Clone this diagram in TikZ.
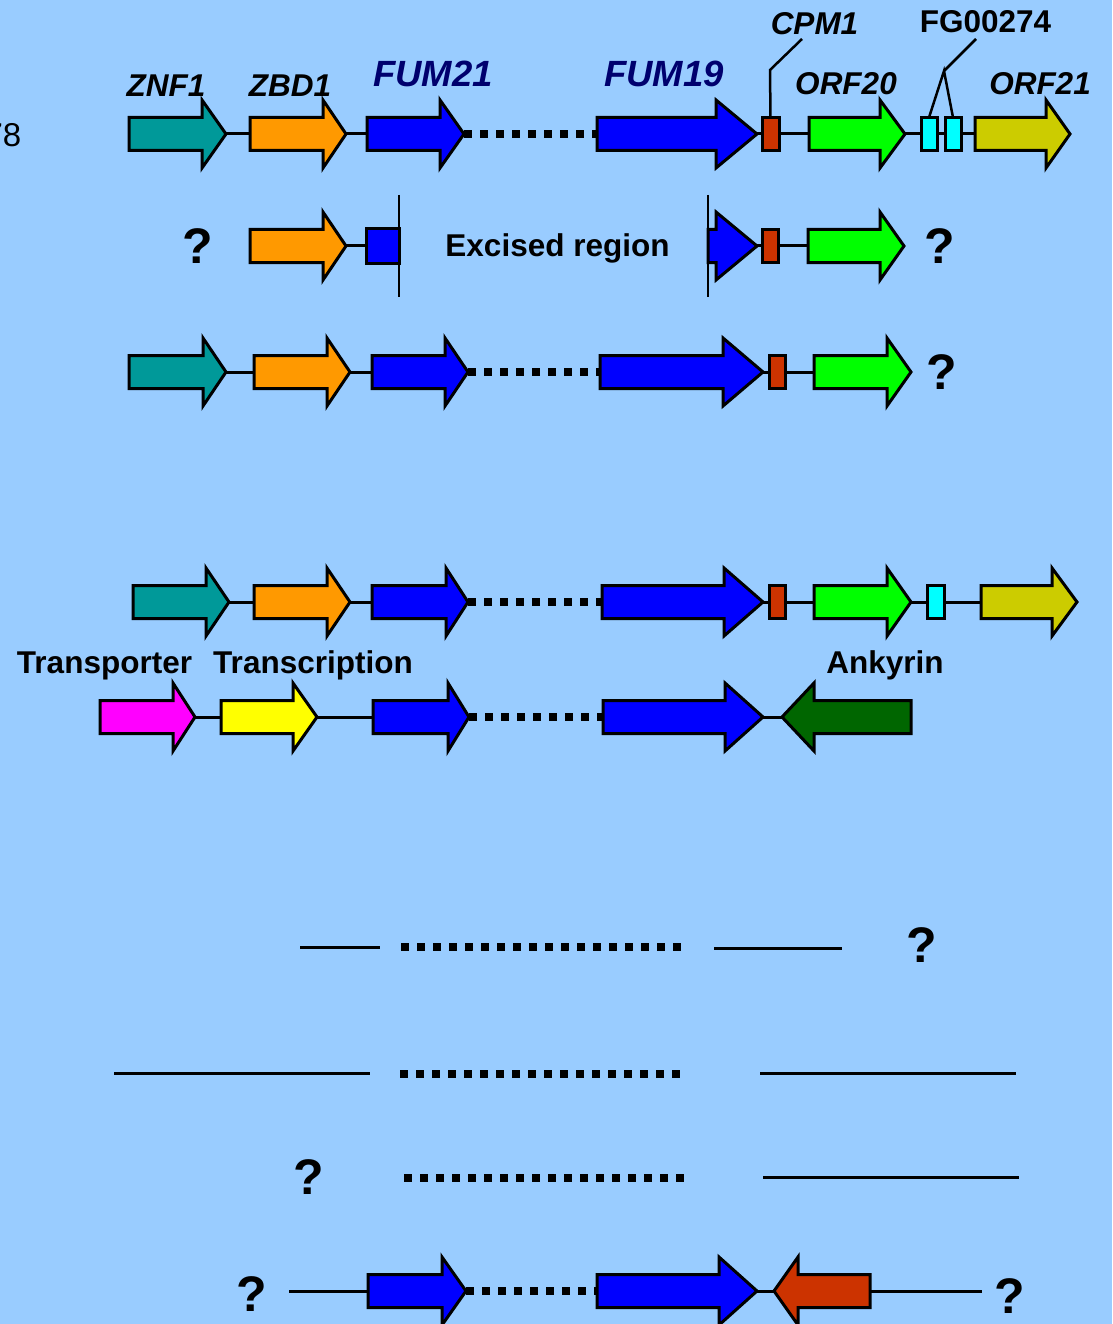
\documentclass[tikz,border=0pt]{standalone}
\usepackage{fontspec}
\setmainfont{Liberation Sans}
\definecolor{bg}{HTML}{99CCFF}
\definecolor{cteal}{HTML}{009999}
\definecolor{corange}{HTML}{FF9900}
\definecolor{cblue}{HTML}{0000FF}
\definecolor{cred}{HTML}{CC3300}
\definecolor{cgreen}{HTML}{00FF00}
\definecolor{ccyan}{HTML}{00FFFF}
\definecolor{colive}{HTML}{CCCC00}
\definecolor{cmag}{HTML}{FF00FF}
\definecolor{cyel}{HTML}{FFFF00}
\definecolor{cdkgreen}{HTML}{006600}
\definecolor{navy}{HTML}{00006E}
\newcommand\lblit{\fontsize{31.5}{36}\selectfont\bfseries\itshape}
\newcommand\lblbf{\fontsize{31.5}{36}\selectfont\bfseries}
\newcommand\lblfum{\fontsize{36.5}{40}\selectfont\bfseries\itshape}
\newcommand\qfont{\fontsize{50}{54}\selectfont\bfseries}
% gene arrow pointing right: name, x0, head base, tip, y, colour
\newcommand\garrow[6]{%
  \path[gene,fill=#6] ({#2},{#5-16.5}) -- ({#3},{#5-16.5}) -- ({#3},{#5-34}) -- ({#4},{#5})
     -- ({#3},{#5+34}) -- ({#3},{#5+16.5}) -- ({#2},{#5+16.5}) -- cycle;
  \coordinate (#1-l) at ({#2},{#5});
  \coordinate (#1-r) at ({#4},{#5});}
% gene arrow pointing left: name, tip, head base, right end, y, colour
\newcommand\garrowL[6]{%
  \path[gene,fill=#6] ({#4},{#5-16.5}) -- ({#3},{#5-16.5}) -- ({#3},{#5-34}) -- ({#2},{#5})
     -- ({#3},{#5+34}) -- ({#3},{#5+16.5}) -- ({#4},{#5+16.5}) -- cycle;
  \coordinate (#1-l) at ({#2},{#5});
  \coordinate (#1-r) at ({#4},{#5});}
% small box: name, x0, x1, y, half height, colour
\newcommand\gbox[6]{%
  \path[gene,fill=#6] ({#2},{#4-#5}) rectangle ({#3},{#4+#5});
  \coordinate (#1-l) at ({#2},{#4});
  \coordinate (#1-r) at ({#3},{#4});
  \coordinate (#1-t) at ({(#2+#3)/2},{#4-#5});}
\tikzset{
  gene/.style={draw=black,line width=3pt,line join=miter},
  link/.style={draw=black,line width=3pt},
  dotlink/.style={draw=black,line width=8pt,dash pattern=on 8pt off 8pt},
  lblI/.style={font=\lblit,anchor=base,inner sep=0pt},
  lblB/.style={font=\lblbf,anchor=base,inner sep=0pt},
  lblF/.style={font=\lblfum,text=navy,anchor=base,inner sep=0pt},
  qm/.style={font=\qfont,inner sep=0pt,anchor=center},
}
\begin{document}
\begin{tikzpicture}[x=1pt,y=-1pt]
\path[fill=bg] (0,0) rectangle (1112,1324);
\useasboundingbox (0,0) rectangle (1112,1324);

\node[anchor=base east,inner sep=0pt,font=\fontsize{33}{36}\selectfont] (side) at (21.5,147) {78};

% ---------------- Row 1 ----------------
\garrow{a1}{129}{202}{226}{134}{cteal}
\garrow{a2}{250}{323}{346}{134}{corange}
\garrow{a3}{367}{440}{464}{134}{cblue}
\garrow{a4}{597}{716}{757}{134}{cblue}
\gbox{a5}{762}{779}{134}{16.5}{cred}
\garrow{a6}{809}{880}{905}{134}{cgreen}
\gbox{a7}{921}{937}{134}{16.5}{ccyan}
\gbox{a8}{945}{961}{134}{16.5}{ccyan}
\garrow{a9}{975}{1046}{1070}{134}{colive}
\draw[link] (a1-r) -- (a2-l);
\draw[link] (a2-r) -- (a3-l);
\draw[dotlink] (a3-r) -- (a4-l);
\draw[link] (a4-r) -- (a5-l);
\draw[link] (a5-r) -- (a6-l);
\draw[link] (a6-r) -- (a7-l);
\draw[link] (a7-r) -- (a8-l);
\draw[link] (a8-r) -- (a9-l);

\node[lblI] (lznf) at (166,97) {ZNF1};
\node[lblI] (lzbd) at (290,97) {ZBD1};
\node[lblF] (lf21) at (433,87) {FUM21};
\node[lblF] (lf19) at (664,87) {FUM19};
\node[lblI] (lcpm) at (814.5,35) {CPM1};
\node[lblB] (lfg) at (985.5,33) {FG00274};
\node[lblI] (lo20) at (846,95) {ORF20};
\node[lblI] (lo21) at (1040,95) {ORF21};
\coordinate (cpmk) at (770,70);
\coordinate (cpme) at (802,39);
\draw[link,line width=2.5pt] (a5-t) -- (cpmk) -- (cpme);
\coordinate (fgk) at (944,71);
\coordinate (fge) at (976,39);
\draw[link,line width=2.5pt] (a7-t) -- (fgk) -- (a8-t);
\draw[link,line width=2.5pt] (fgk) -- (fge);

% ---------------- Row 2 ----------------
\node[qm] (q2a) at (198,246) {?};
\garrow{b1}{250}{323}{346}{246}{corange}
\gbox{b2}{366}{399}{246}{17}{cblue}
\garrow{b3}{708}{716}{757}{246}{cblue}
\gbox{b4}{762}{778}{246}{16.5}{cred}
\garrow{b5}{808}{880}{904}{246}{cgreen}
\node[qm] (q2b) at (940,246) {?};
\draw[link] (b1-r) -- (b2-l);
\draw[link] (b3-r) -- (b4-l);
\draw[link] (b4-r) -- (b5-l);
\coordinate (v1t) at (399,195); \coordinate (v1b) at (399,297);
\coordinate (v2t) at (708,195); \coordinate (v2b) at (708,297);
\draw[link,line width=2.5pt] (v1t) -- (v1b);
\draw[link,line width=2.5pt] (v2t) -- (v2b);
\node[lblB] (exc) at (557.5,256) {Excised region};

% ---------------- Row 3 ----------------
\garrow{c1}{129}{203}{226}{372}{cteal}
\garrow{c2}{254}{327}{350}{372}{corange}
\garrow{c3}{372}{445}{468}{372}{cblue}
\garrow{c4}{600}{723}{763}{372}{cblue}
\gbox{c5}{769}{785}{372}{16.5}{cred}
\garrow{c6}{814}{887}{911}{372}{cgreen}
\node[qm] (q3) at (942,372) {?};
\draw[link] (c1-r) -- (c2-l);
\draw[link] (c2-r) -- (c3-l);
\draw[dotlink] (c3-r) -- (c4-l);
\draw[link] (c4-r) -- (c5-l);
\draw[link] (c5-r) -- (c6-l);

% ---------------- Row 4 ----------------
\garrow{d1}{133}{206}{229}{602}{cteal}
\garrow{d2}{254}{327}{350}{602}{corange}
\garrow{d3}{372}{446}{468}{602}{cblue}
\garrow{d4}{602}{724}{763}{602}{cblue}
\gbox{d5}{769}{785}{602}{16.5}{cred}
\garrow{d6}{814}{887}{911}{602}{cgreen}
\gbox{d7}{927}{944}{602}{16.5}{ccyan}
\garrow{d8}{981}{1052}{1077}{602}{colive}
\draw[link] (d1-r) -- (d2-l);
\draw[link] (d2-r) -- (d3-l);
\draw[dotlink] (d3-r) -- (d4-l);
\draw[link] (d4-r) -- (d5-l);
\draw[link] (d5-r) -- (d6-l);
\draw[link] (d6-r) -- (d7-l);
\draw[link] (d7-r) -- (d8-l);

\node[lblB] (ltr) at (104.5,673) {Transporter};
\node[lblB] (ltc) at (313,673) {Transcription};
\node[lblB] (lank) at (885,673) {Ankyrin};

% ---------------- Row 5 ----------------
\garrow{e1}{100}{173}{195}{717}{cmag}
\garrow{e2}{221}{293}{317}{717}{cyel}
\garrow{e3}{373}{448}{469}{717}{cblue}
\garrow{e4}{603}{725}{763}{717}{cblue}
\garrowL{e5}{782}{814}{911}{717}{cdkgreen}
\draw[link] (e1-r) -- (e2-l);
\draw[link] (e2-r) -- (e3-l);
\draw[dotlink] (e3-r) -- (e4-l);
\draw[link] (e4-r) -- (e5-l);

% ---------------- Bottom rows ----------------
\coordinate (fa1) at (300,947); \coordinate (fa2) at (380,947);
\coordinate (fa3) at (401,947); \coordinate (fa4) at (684,947);
\coordinate (fa5) at (714,948); \coordinate (fa6) at (842,948);
\draw[link] (fa1) -- (fa2);
\draw[dotlink] (fa3) -- (fa4);
\draw[link] (fa5) -- (fa6);
\node[qm] (qa) at (922,945) {?};

\coordinate (fb1) at (114,1073); \coordinate (fb2) at (370,1073);
\coordinate (fb3) at (400,1074); \coordinate (fb4) at (681,1074);
\coordinate (fb5) at (760,1073); \coordinate (fb6) at (1016,1073);
\draw[link] (fb1) -- (fb2);
\draw[dotlink] (fb3) -- (fb4);
\draw[link] (fb5) -- (fb6);

\node[qm] (qc) at (309,1177) {?};
\coordinate (fc3) at (404,1178); \coordinate (fc4) at (684,1178);
\coordinate (fc5) at (763,1177); \coordinate (fc6) at (1019,1177);
\draw[dotlink] (fc3) -- (fc4);
\draw[link] (fc5) -- (fc6);

\node[qm] (qd1) at (252,1294) {?};
\coordinate (gd0) at (289,1291);
\garrow{g1}{368}{442}{466}{1291}{cblue}
\garrow{g2}{597}{719}{757}{1291}{cblue}
\garrowL{g3}{774}{798}{870}{1291}{cred}
\coordinate (gd9) at (982,1291);
\node[qm] (qd2) at (1010,1296) {?};
\draw[link] (gd0) -- (g1-l);
\draw[dotlink] (g1-r) -- (g2-l);
\draw[link] (g2-r) -- (g3-l);
\draw[link] (g3-r) -- (gd9);
\end{tikzpicture}
\end{document}
